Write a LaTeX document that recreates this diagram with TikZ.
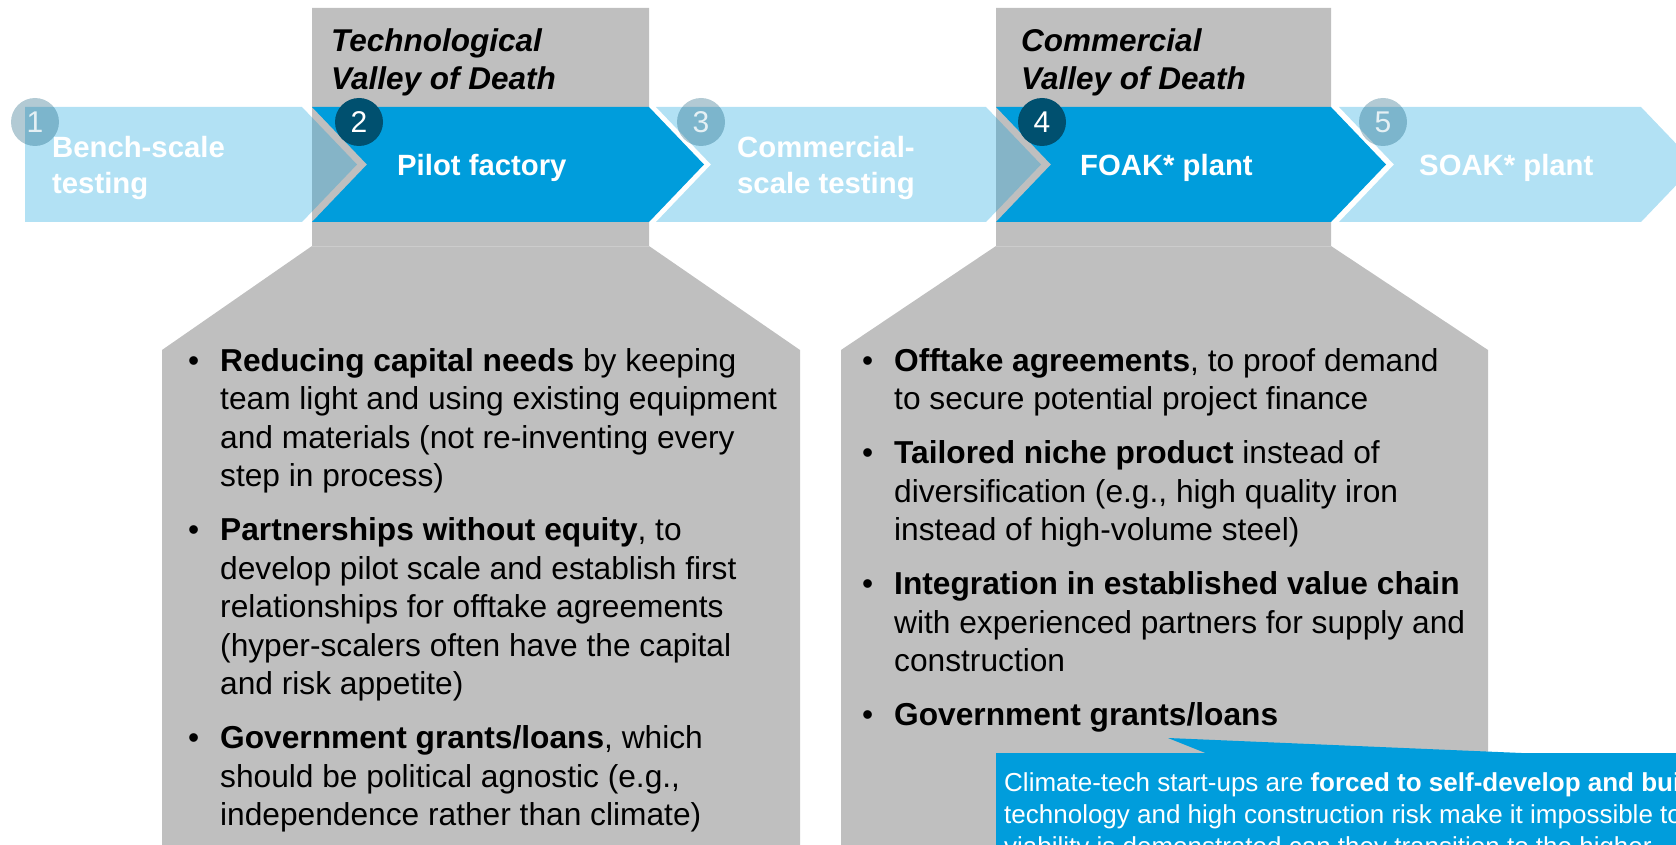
\documentclass[tikz,border=0pt]{standalone}
\usepackage{fontspec}
\setmainfont{Liberation Sans}
\definecolor{stageblue}{HTML}{009DDC}
\definecolor{stagenavy}{HTML}{00506F}
\definecolor{vodgray}{HTML}{BFBFBF}
\definecolor{seamgray}{HTML}{CCCCCC}
\tikzset{
  vodbox/.style={fill=vodgray},
  stageon/.style={fill=stageblue},
  stageoff/.style={fill=stageblue, fill opacity=0.3},
  numdisk/.style={circle, fill=stagenavy, minimum size=48pt, inner sep=0pt,
    text=white, font=\fontsize{30}{30}\selectfont},
  numoff/.style={numdisk, fill opacity=0.3, text opacity=0.8},
  stagelabel/.style={anchor=base west, inner sep=0pt, text=white,
    font=\fontsize{29.3}{34}\selectfont\bfseries},
  vodtitle/.style={anchor=base west, inner sep=0pt,
    font=\fontsize{31.5}{38.5}\selectfont\bfseries\itshape},
  bodyline/.style={anchor=base west, inner sep=0pt,
    font=\fontsize{31.7}{38.5}\selectfont},
  callline/.style={anchor=base west, inner sep=0pt, text=white,
    font=\fontsize{26}{32}\selectfont},
}
\begin{document}
\begin{tikzpicture}[x=1pt,y=-1pt]
\useasboundingbox (0,0) rectangle (1676,845);
\clip (0,0) rectangle (1676,845);

% valley-of-death panels
\path[vodbox] (312,8) -- (649,8) -- (649,246) -- (800,350) -- (800,850)
  -- (162,850) -- (162,350) -- (312,246) -- cycle;
\path[vodbox] (996,8) -- (1331,8) -- (1331,246) -- (1488,350) -- (1488,850)
  -- (841,850) -- (841,350) -- (996,246) -- cycle;
\draw[seamgray, line width=0.8pt] (312,246) -- (649,246);
\draw[seamgray, line width=0.8pt] (996,246) -- (1331,246);

% stage chevrons
\path[stageoff] (25,107) -- (302,107) -- (357,164.5) -- (302,222) -- (25,222) -- cycle;
\path[stageon]  (312,107) -- (649,107) -- (704,164.5) -- (649,222) -- (312,222) -- (367,164.5) -- cycle;
\path[stageoff] (656,107) -- (986,107) -- (1041,164.5) -- (986,222) -- (656,222) -- (711,164.5) -- cycle;
\path[stageon]  (996,107) -- (1331,107) -- (1386,164.5) -- (1331,222) -- (996,222) -- (1051,164.5) -- cycle;
\path[stageoff] (1339,107) -- (1641,107) -- (1696,164.5) -- (1641,222) -- (1339,222) -- (1394,164.5) -- cycle;

% step numbers
\node[numoff]  (n1) at (35,122)   {1};
\node[numdisk] (n2) at (359,122)  {2};
\node[numoff]  (n3) at (701,122)  {3};
\node[numdisk] (n4) at (1042,122) {4};
\node[numoff]  (n5) at (1383,122) {5};

% stage labels
\node[stagelabel] (s1a) at (52,158)    {Bench-scale};
\node[stagelabel] (s1b) at (52,194)    {testing};
\node[stagelabel] (s2)  at (397,176)   {Pilot factory};
\node[stagelabel] (s3a) at (737,158)   {Commercial-};
\node[stagelabel] (s3b) at (737,194)   {scale testing};
\node[stagelabel] (s4)  at (1080,176)  {FOAK* plant};
\node[stagelabel] (s5)  at (1419,176)  {SOAK* plant};

% panel titles
\node[vodtitle] (t1a) at (331,51.5)  {Technological};
\node[vodtitle] (t1b) at (331,90)    {Valley of Death};
\node[vodtitle] (t2a) at (1021,51.5) {Commercial};
\node[vodtitle] (t2b) at (1021,90)   {Valley of Death};

% technological valley: bullets
\foreach \y [count=\i] in {371,540.5,748.5}
  \node[bodyline] (lb\i) at (188,\y) {•};
\foreach \y/\t [count=\i] in {
  371/{\textbf{Reducing capital needs} by keeping},
  409.5/{team light and using existing equipment},
  448/{and materials (not re-inventing every},
  486.5/{step in process)},
  540.5/{\textbf{Partnerships without equity}, to},
  579/{develop pilot scale and establish first},
  617.5/{relationships for offtake agreements},
  656/{(hyper-scalers often have the capital},
  694.5/{and risk appetite)},
  748.5/{\textbf{Government grants/loans}, which},
  787/{should be political agnostic (e.g.,},
  825.5/{independence rather than climate)}}
  \node[bodyline] (lt\i) at (220,\y) {\t};

% commercial valley: bullets
\foreach \y [count=\i] in {371,463.5,594.5,725.5}
  \node[bodyline] (rb\i) at (862,\y) {•};
\foreach \y/\t [count=\i] in {
  371/{\textbf{Offtake agreements}, to proof demand},
  409.5/{to secure potential project finance},
  463.5/{\textbf{Tailored niche product} instead of},
  502/{diversification (e.g., high quality iron},
  540.5/{instead of high-volume steel)},
  594.5/{\textbf{Integration in established value chain}},
  633/{with experienced partners for supply and},
  671.5/{construction},
  725.5/{\textbf{Government grants/loans}}}
  \node[bodyline] (rt\i) at (894,\y) {\t};

% call-out
\path[stageon] (1168,738) -- (1208,754) -- (1545,754) -- cycle;
\path[stageon] (996,753) rectangle (1680,850);
\node[callline] (c1) at (1004,791) {Climate-tech start-ups are \textbf{forced to self-develop and build}};
\node[callline] (c2) at (1004,823) {technology and high construction risk make it impossible to};
\node[callline] (c3) at (1004,855) {viability is demonstrated can they transition to the higher-};
\end{tikzpicture}
\end{document}
